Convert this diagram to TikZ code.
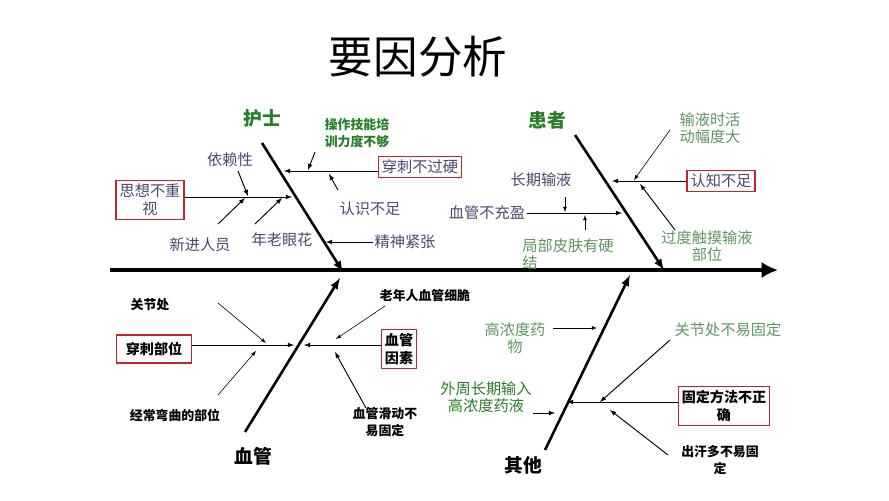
\documentclass[tikz,border=0pt]{standalone}
\usepackage{fontspec}
\setmainfont{Noto Sans CJK SC}
\usetikzlibrary{positioning, arrows.meta}
\definecolor{fb-ink}{RGB}{72,72,112}
\definecolor{fb-green}{RGB}{40,125,40}
\definecolor{fb-lgreen}{RGB}{95,150,95}
\definecolor{fb-red}{RGB}{190,40,45}
\tikzset{every picture/.style={line width=0.8pt}}

\begin{document}
\begin{tikzpicture}
    [x=0.03cm, y=-0.03cm,
    cause/.style = {rectangle, draw=fb-red, line width=1.2pt, align=center,
            inner sep=3pt, font=\fontsize{13}{15}\selectfont},
    lbl/.style = {align=center, text=fb-ink, inner sep=1pt, font=\fontsize{13}{15}\selectfont},
    glbl/.style = {align=center, text=fb-lgreen, inner sep=1pt, font=\fontsize{13}{15}\selectfont},
    blbl/.style = {align=center, inner sep=1pt, font=\bfseries\fontsize{11}{14}\selectfont},
    head/.style = {font=\bfseries\fontsize{16}{18}\selectfont},
    bone/.style = {line width=2.2pt},
    -latex,
    ]
    \useasboundingbox (0,0) rectangle (889,500);

    \node[font=\fontsize{38}{40}\selectfont] (title) at (418,57) {要因分析};

    % spine and bones
    \coordinate (tail) at (110,270);
    \coordinate (head) at (778,270);
    \draw[line width=4pt, -{Latex[length=14pt,width=14pt]}] (tail) -- (head);
    \coordinate (n0) at (262,143); \coordinate (n1) at (343,272);
    \coordinate (p0) at (575,135); \coordinate (p1) at (664,270);
    \coordinate (v0) at (245,432); \coordinate (v1) at (340,278);
    \coordinate (o0) at (545,450); \coordinate (o1) at (630,275);
    \draw[bone] (n0) -- (n1);
    \draw[bone] (p0) -- (p1);
    \draw[bone] (v0) -- (v1);
    \draw[bone] (o0) -- (o1);

    \node[head, text=fb-green] (nurse) at (262,118) {护士};
    \node[head, text=fb-green] (patient) at (547,120) {患者};
    \node[head] (vessel) at (253,456) {血管};
    \node[head] (other) at (523,465) {其他};

    % nurse
    \node[cause, text=fb-ink] (idea) at (150,200) {思想不重\\视};
    \coordinate (idea-end) at (292,197);
    \draw (idea.east |- idea-end) -- (idea-end);
    \node[lbl] (rely) at (230,160) {依赖性};
    \node[lbl] (newbie) at (200,245) {新进人员};
    \node[lbl] (eyes) at (282,240) {年老眼花};
    \coordinate (rely-end) at (248,196); \coordinate (newbie-end) at (245,198); \coordinate (eyes-end) at (282,198);
    \draw (238,171) -- (rely-end);
    \draw (218,224) -- (newbie-end);
    \draw (255,224) -- (eyes-end);
    \node[cause, text=fb-ink] (skill) at (420,167) {穿刺不过硬};
    \coordinate (skill-end) at (284,171);
    \draw (skill.west |- skill-end) -- (skill-end);
    \node[blbl, text=fb-green] (train) at (357,133) {操作技能培\\训力度不够};
    \node[lbl] (know) at (370,209) {认识不足};
    \draw (315,152) -- (308,170);
    \draw (338,190) -- (329,174);
    \node[lbl] (tense) at (405,242) {精神紧张};
    \draw (tense.west) -- (326,242);

    % patient
    \node[cause, text=fb-ink] (aware) at (721,181) {认知不足};
    \coordinate (aware-end) at (612,181);
    \draw (aware.west |- aware-end) -- (aware-end);
    \node[glbl] (move) at (710,128) {输液时活\\动幅度大};
    \node[glbl] (touch) at (707,246) {过度触摸输液\\部位};
    \draw[line width=0.5pt] (670,130) -- (634,180);
    \draw (675,230) -- (640,184);
    \node[lbl] (fill) at (487,213) {血管不充盈};
    \coordinate (fill-end) at (622,213);
    \draw (fill.east) -- (fill-end);
    \node[lbl] (long) at (541,180) {长期输液};
    \draw[line width=0.5pt] (565,197) -- (565,212);
    \node[glbl, align=left] (hard) at (568,254) {局部皮肤有硬\\结};
    \draw[line width=0.5pt] (585,230) -- (585,215);

    % vessel
    \node[cause, font=\bfseries\fontsize{12}{14}\selectfont, inner xsep=8pt, inner ysep=6pt] (site) at (154,349) {穿刺部位};
    \coordinate (site-end) at (294,345);
    \draw (site.east |- site-end) -- (site-end);
    \node[blbl] (joint) at (150,305) {关节处};
    \node[blbl] (bend) at (175,415) {经常弯曲的部位};
    \draw[line width=0.5pt] (218,303) -- (266,343);
    \draw[line width=0.5pt] (218,395) -- (256,351);
    \node[cause, font=\bfseries\fontsize{12}{16}\selectfont] (factor) at (399,349) {血管\\因素};
    \coordinate (factor-end) at (304,345);
    \draw (factor.west |- factor-end) -- (factor-end);
    \node[blbl] (old) at (425,296) {老年人血管细脆};
    \node[blbl] (slide) at (385,422) {血管滑动不\\易固定};
    \draw[line width=0.5pt] (385,306) -- (336,339);
    \draw (366,408) -- (335,352);

    % other
    \node[glbl] (drug) at (515,338) {高浓度药\\物};
    \draw[line width=0.5pt] (553,328) -- (597,328);
    \node[glbl] (jfix) at (728,330) {关节处不易固定};
    \draw (670,340) -- (600,402);
    \node[cause, font=\bfseries\fontsize{12}{16}\selectfont] (method) at (724,406) {固定方法不正\\确};
    \coordinate (method-end) at (567,402);
    \draw (method.west |- method-end) -- (method-end);
    \node[glbl, text=fb-green] (outer) at (486,397) {外周长期输入\\高浓度药液};
    \coordinate (outer-end) at (555,413);
    \draw (outer.east |- outer-end) -- (outer-end);
    \node[blbl] (sweat) at (720,460) {出汗多不易固\\定};
    \draw (668,455) -- (610,410);
\end{tikzpicture}
\end{document}
